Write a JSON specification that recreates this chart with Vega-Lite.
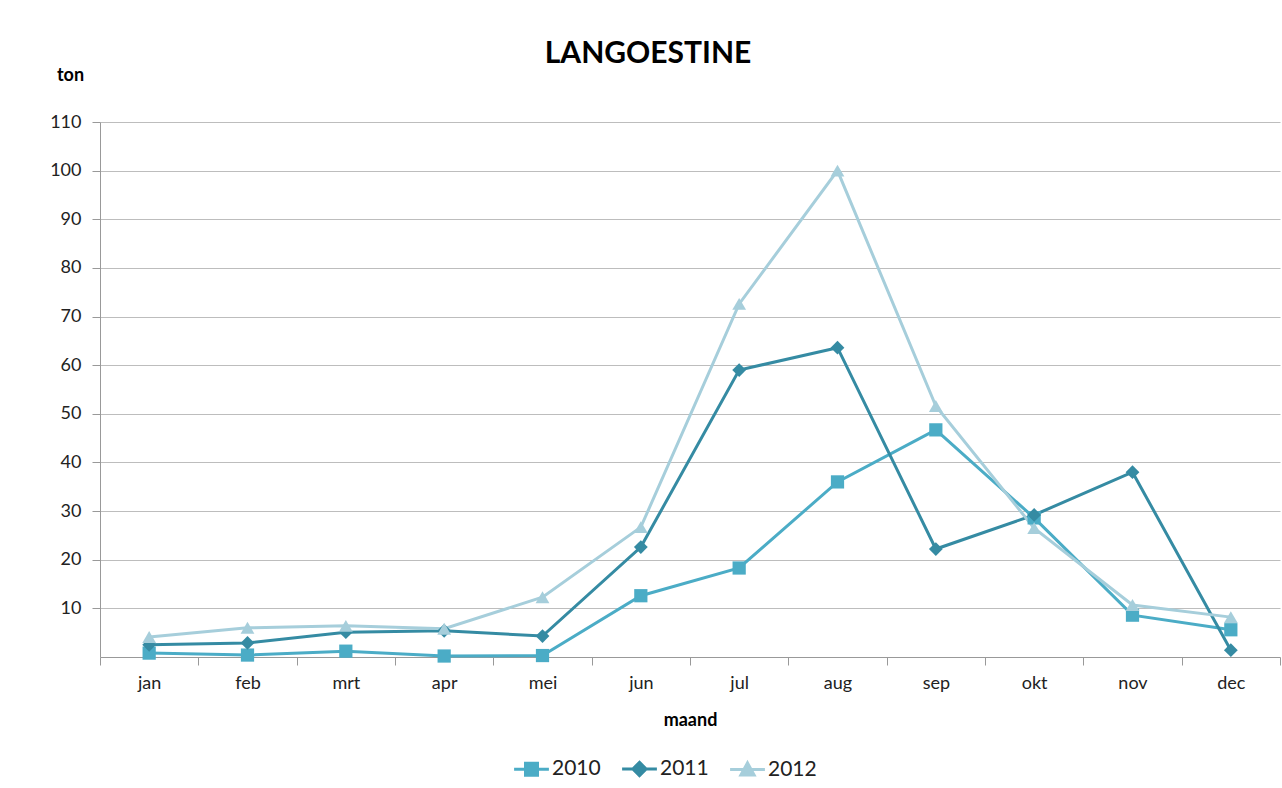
{
  "$schema": "https://vega.github.io/schema/vega-lite/v6.json",
  "width": 1180,
  "height": 535,
  "autosize": {"type": "none"},
  "padding": {"left": 100, "top": 122, "right": 2, "bottom": 131},
  "background": "white",
  "config": {
    "font": "Lato",
    "view": {"stroke": null},
    "axis": {"labelFont": "Lato", "titleFont": "Lato"}
  },
  "title": {
    "text": "LANGOESTINE",
    "fontSize": 30,
    "fontWeight": "bold",
    "font": "Lato",
    "color": "#000000",
    "anchor": "middle",
    "dx": -42,
    "offset": -3
  },
  "data": {
    "values": [
      {"maand": "jan", "jaar": "2010", "ton": 0.8},
      {"maand": "feb", "jaar": "2010", "ton": 0.4},
      {"maand": "mrt", "jaar": "2010", "ton": 1.2},
      {"maand": "apr", "jaar": "2010", "ton": 0.2},
      {"maand": "mei", "jaar": "2010", "ton": 0.3},
      {"maand": "jun", "jaar": "2010", "ton": 12.6},
      {"maand": "jul", "jaar": "2010", "ton": 18.3},
      {"maand": "aug", "jaar": "2010", "ton": 36.0},
      {"maand": "sep", "jaar": "2010", "ton": 46.7},
      {"maand": "okt", "jaar": "2010", "ton": 28.6},
      {"maand": "nov", "jaar": "2010", "ton": 8.6},
      {"maand": "dec", "jaar": "2010", "ton": 5.6},
      {"maand": "jan", "jaar": "2011", "ton": 2.5},
      {"maand": "feb", "jaar": "2011", "ton": 2.9},
      {"maand": "mrt", "jaar": "2011", "ton": 5.1},
      {"maand": "apr", "jaar": "2011", "ton": 5.4},
      {"maand": "mei", "jaar": "2011", "ton": 4.3},
      {"maand": "jun", "jaar": "2011", "ton": 22.6},
      {"maand": "jul", "jaar": "2011", "ton": 59.0},
      {"maand": "aug", "jaar": "2011", "ton": 63.6},
      {"maand": "sep", "jaar": "2011", "ton": 22.2},
      {"maand": "okt", "jaar": "2011", "ton": 29.2},
      {"maand": "nov", "jaar": "2011", "ton": 38.0},
      {"maand": "dec", "jaar": "2011", "ton": 1.4},
      {"maand": "jan", "jaar": "2012", "ton": 4.1},
      {"maand": "feb", "jaar": "2012", "ton": 6.0},
      {"maand": "mrt", "jaar": "2012", "ton": 6.4},
      {"maand": "apr", "jaar": "2012", "ton": 5.8},
      {"maand": "mei", "jaar": "2012", "ton": 12.3},
      {"maand": "jun", "jaar": "2012", "ton": 26.7},
      {"maand": "jul", "jaar": "2012", "ton": 72.6},
      {"maand": "aug", "jaar": "2012", "ton": 100.0},
      {"maand": "sep", "jaar": "2012", "ton": 51.6},
      {"maand": "okt", "jaar": "2012", "ton": 26.5},
      {"maand": "nov", "jaar": "2012", "ton": 10.7},
      {"maand": "dec", "jaar": "2012", "ton": 8.2}
    ]
  },
  "encoding": {
    "x": {
      "field": "maand",
      "type": "nominal",
      "sort": ["jan", "feb", "mrt", "apr", "mei", "jun", "jul", "aug", "sep", "okt", "nov", "dec"],
      "scale": {"type": "band", "paddingInner": 0, "paddingOuter": 0},
      "axis": {
        "title": "maand",
        "titleFontSize": 18,
        "titleFontWeight": "bold",
        "titleColor": "#000000",
        "titleY": 63,
        "titleBaseline": "middle",
        "labelAngle": 0,
        "labelFontSize": 18,
        "labelColor": "#222222",
        "labelPadding": 9,
        "tickBand": "extent",
        "tickSize": 8,
        "tickColor": "#999999",
        "domainColor": "#999999",
        "grid": false
      }
    },
    "y": {
      "field": "ton",
      "type": "quantitative",
      "scale": {"domain": [0, 110], "nice": false},
      "axis": {
        "title": "ton",
        "titleAngle": 0,
        "titleX": -30,
        "titleY": -47,
        "titleAlign": "center",
        "titleBaseline": "middle",
        "titleFontSize": 18,
        "titleFontWeight": "bold",
        "titleColor": "#000000",
        "values": [10, 20, 30, 40, 50, 60, 70, 80, 90, 100, 110],
        "labelFontSize": 18,
        "labelColor": "#222222",
        "labelPadding": 11,
        "tickSize": 8,
        "tickColor": "#999999",
        "domainColor": "#999999",
        "gridColor": "#bdbdbd",
        "gridWidth": 1.2
      }
    },
    "color": {
      "field": "jaar",
      "type": "nominal",
      "scale": {"domain": ["2010", "2011", "2012"], "range": ["#4BACC6", "#358BA3", "#A6CEDB"]},
      "legend": {
        "title": null,
        "orient": "none",
        "direction": "horizontal",
        "legendX": 411,
        "legendY": 636,
        "labelFontSize": 21,
        "labelColor": "#222222",
        "symbolSize": 144,
        "symbolStrokeWidth": 3,
        "symbolOffset": 10,
        "labelOffset": 10,
        "columnPadding": 15,
        "encode": {
          "symbols": {
            "update": {
              "shape": {"signal": "datum.value === '2010' ? 'M-2.9,0H2.9M-1,-1H1V1H-1Z' : datum.value === '2011' ? 'M-2.9,0H2.9M0,-1.1L1.1,0L0,1.1L-1.1,0Z' : 'M-2.9,0H2.9M0,-1.1L1.1,0.9H-1.1Z'"},
              "fill": {"scale": "color", "field": "value"},
              "stroke": {"scale": "color", "field": "value"}
            }
          }
        }
      }
    }
  },
  "layer": [
    {
      "mark": {"type": "line", "strokeWidth": 3},
      "encoding": {}
    },
    {
      "transform": [{"filter": "datum.jaar === '2010'"}],
      "mark": {"type": "point", "filled": true, "opacity": 1, "size": 175, "shape": "square"},
      "encoding": {}
    },
    {
      "transform": [{"filter": "datum.jaar === '2011'"}],
      "mark": {"type": "point", "filled": true, "opacity": 1, "size": 190, "shape": "diamond"},
      "encoding": {}
    },
    {
      "transform": [{"filter": "datum.jaar === '2012'"}],
      "mark": {"type": "point", "filled": true, "opacity": 1, "size": 190, "shape": "triangle-up"},
      "encoding": {}
    }
  ]
}
